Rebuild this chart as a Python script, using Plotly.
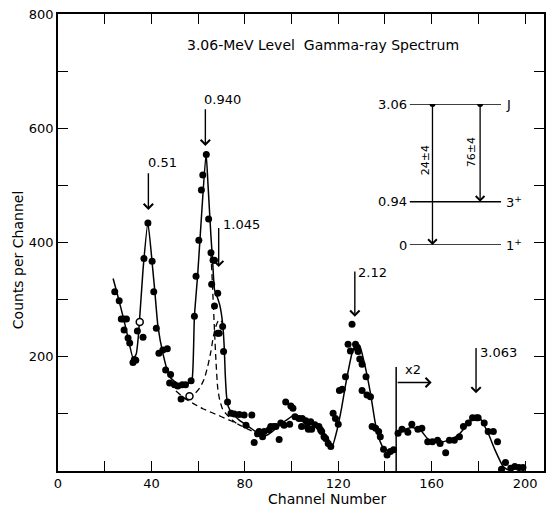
import plotly.graph_objects as go

# ---- measured spectrum (channel, counts) ----
pt_ch = [24.3, 26.2, 27.1, 28.1, 29.3, 28.3, 30.0, 30.7, 32.1, 32.7, 33.3, 34.0, 36.4, 36.8, 38.5,
         40.3, 41.0, 42.1, 43.2, 44.9, 46.8, 46.1, 48.2, 47.8, 49.9, 51.3, 53.2, 54.6, 52.7, 57.0,
         58.4, 59.1, 60.3, 61.4, 62.0, 63.5, 64.5, 65.5, 66.4, 67.0, 65.8, 68.4, 67.0, 70.5, 68.4,
         69.0, 70.9, 72.6, 74.1, 75.5, 77.6, 79.7, 83.0, 80.5, 84.0, 85.4, 86.1, 86.8, 87.6, 88.3,
         90.4, 91.1, 92.5, 93.3, 94.7, 95.4, 96.8, 97.5, 99.2, 99.7, 100.6, 101.5, 103.2, 104.3, 104.6,
         106.1, 106.7, 107.2, 108.2, 108.6, 110.0, 111.7, 112.4, 112.9, 113.9, 114.6, 115.7, 116.8, 117.8,
         118.8, 120.0, 120.5, 121.7, 123.1, 124.2, 125.2, 125.9, 127.4, 128.1, 128.5, 129.2, 130.2, 130.2,
         131.9, 132.3, 133.8, 134.5, 136.0, 137.3, 138.0, 139.4, 140.9, 142.3, 143.7,
         145.6, 147.3, 149.8, 151.5, 154.1, 155.8, 158.3, 160.3, 162.5, 163.6, 166.0, 167.6, 169.7, 171.9,
         173.6, 175.7, 177.5, 179.2, 179.9, 182.5, 184.2, 186.4, 188.2, 191.6, 189.9, 193.9, 195.6, 197.4, 199.1]
pt_cnt = [314, 298, 266, 266, 266, 247, 233, 224, 190, 195, 194, 245, 234, 372, 434,
          367, 314, 250, 206, 212, 214, 177, 169, 154, 151, 149, 151, 151, 126, 158,
          271, 341, 404, 492, 518, 554, 441, 382, 369, 369, 327, 311, 289, 253, 241,
          241, 209, 121, 101, 100, 99, 98, 98, 80, 50, 65, 69, 66, 60, 69,
          72, 78, 78, 78, 55, 84, 80, 121, 82, 114, 110, 95, 92, 78, 92,
          88, 78, 73, 86, 73, 81, 78, 72, 69, 60, 57, 48, 43, 101,
          92, 82, 141, 143, 165, 222, 210, 257, 222, 215, 209, 196, 187, 141,
          165, 133, 130, 78, 75, 69, 60, 38, 28, 34, 37,
          66, 73, 68, 82, 73, 75, 51, 51, 54, 48, 32, 54, 54, 60,
          78, 84, 93, 93, 93, 84, 69, 69, 51, 15, 3, 5, 8, 6, 6]
open_ch = [35.0, 56.3]
open_cnt = [261, 131]

# ---- fitted curve (solid) ----
fit1_ch = [23.6, 25.7, 28.0, 30.0, 32.2, 33.5, 34.5, 36.4, 38.5, 40.6, 41.4, 42.8, 44.9, 47.8, 52.0,
           56.3, 57.4, 58.4, 59.8, 61.5, 63.4, 64.2, 65.5, 66.2, 67.0, 68.4, 69.3, 70.5, 71.2, 71.6,
           72.2, 73.0, 74.1, 77.6, 81.9, 85.4, 89.0, 92.0, 94.7, 98.9, 101.0, 103.5, 106.0, 109.0, 111.7,
           114.0, 116.0, 117.4, 119.5, 121.5, 123.1, 125.9, 127.6, 129.1, 130.9, 133.8, 135.9, 138.0,
           139.9, 142.0, 144.4]
fit1_cnt = [337, 305, 268, 233, 197, 205, 240, 352, 434, 352, 317, 253, 206, 165, 151,
            154, 160, 270, 343, 450, 556, 504, 410, 369, 318, 302, 290, 258, 215, 170,
            130, 112, 104, 89, 77, 67, 62, 70, 80, 92, 98, 95, 89, 83, 78,
            66, 54, 43, 72, 112, 150, 206, 222, 220, 194, 136, 83, 51,
            37, 36, 37]
fit2_ch = [145.1, 148.0, 151.5, 155.1, 158.6, 162.9, 167.2, 171.4, 175.7, 178.8, 180.7, 184.2, 187.1, 190.6, 192.7]
fit2_cnt = [63, 72, 76, 72, 55, 50, 54, 63, 83, 95, 92, 66, 37, 8, 2]

# ---- decomposition (dashed) ----
bg_ch = [50.5, 54.0, 58.0, 62.0, 66.0, 70.0, 74.0, 78.0, 82.0, 85.0]
bg_cnt = [140, 128, 118, 109, 102, 95, 88, 80, 72, 66]
tail_ch = [65.5, 66.2, 67.0, 67.7, 68.4, 69.2, 70.5, 72.0, 75.0, 77.6]
tail_cnt = [380, 320, 247, 188, 145, 125, 108, 100, 88, 80]
p1045_ch = [55.5, 58.0, 60.6, 62.5, 64.1, 65.5, 66.5, 67.5, 68.5, 69.5, 70.5]
p1045_cnt = [127, 133, 145, 160, 183, 210, 235, 252, 262, 265, 258]

# ---- peak labels ----
peak_labels = ["0.51", "0.940", "1.045", "2.12", "3.063"]
peak_ch = [38.7, 63.1, 68.8, 127.1, 179.0]
peak_tip = [457, 569, 357, 270, 136]
peak_tail = [524, 636, 428, 352, 218]
label_ch = [37.8, 61.8, 70.0, 127.5, 180.0]
label_cnt = [540, 650, 431, 348, 208]

# ---- x2 marker ----
x2_ch = 144.8
x2_top = 182
x2_arrow_cnt = 155
x2_arrow_end = 160

# ---- level scheme ----
levels = [3.06, 0.94, 0.0]
level_names = ["3.06", "0.94", "0"]
level_spins = ["J", "3<sup>+</sup>", "1<sup>+</sup>"]
branch_x = [0.25, 0.77]
branch_from = [3.06, 3.06]
branch_to = [0.0, 0.94]
branch_text = ["24±4", "76±4"]
branch_text_x = [0.17, 0.685]
branch_text_y = [1.845, 2.02]

x_ticks = [0, 40, 80, 120, 160, 200]
x_ticktext = ["0", "40", "80", "120", "160", "200"]
x_minor = [20, 60, 100, 140, 180]
y_ticks = [200, 400, 600, 800]
y_ticktext = ["200", "400", "600", "800"]
y_minor = [100, 300, 500, 700]

FONT = "DejaVu Sans"
fig = go.Figure()

# dashed components
for cx, cy in [(bg_ch, bg_cnt), (tail_ch, tail_cnt), (p1045_ch, p1045_cnt)]:
    fig.add_trace(go.Scatter(x=cx, y=cy, mode="lines",
                             line=dict(color="black", width=1.3, dash="6px,4px", shape="spline", smoothing=0.6),
                             hoverinfo="skip", showlegend=False))
# fitted curve
for cx, cy in [(fit1_ch, fit1_cnt), (fit2_ch, fit2_cnt)]:
    fig.add_trace(go.Scatter(x=cx, y=cy, mode="lines",
                             line=dict(color="black", width=1.5, shape="spline", smoothing=0.5),
                             hoverinfo="skip", showlegend=False))
# data points
fig.add_trace(go.Scatter(x=pt_ch, y=pt_cnt, mode="markers",
                         marker=dict(color="black", size=7), showlegend=False))
fig.add_trace(go.Scatter(x=open_ch, y=open_cnt, mode="markers",
                         marker=dict(color="white", size=7, line=dict(color="black", width=1.5)),
                         showlegend=False))
# x2 vertical line
fig.add_trace(go.Scatter(x=[x2_ch, x2_ch], y=[0, x2_top], mode="lines",
                         line=dict(color="black", width=1.5), showlegend=False, hoverinfo="skip"))

annotations = []
# peak arrows + labels
for lab, pc, tip, tail, lx, ly in zip(peak_labels, peak_ch, peak_tip, peak_tail, label_ch, label_cnt):
    annotations.append(dict(x=pc, y=tip, ax=pc, ay=tail, xref="x", yref="y", axref="x", ayref="y",
                            text="", showarrow=True, arrowhead=4, arrowsize=1.3, arrowwidth=1.4,
                            arrowcolor="black", standoff=0))
    annotations.append(dict(x=lx, y=ly, xref="x", yref="y", text=lab, showarrow=False,
                            xanchor="left", yanchor="middle", font=dict(size=13, family=FONT, color="black")))
# x2 arrow
annotations.append(dict(x=x2_arrow_end, y=x2_arrow_cnt, ax=x2_ch, ay=x2_arrow_cnt, xref="x", yref="y",
                        axref="x", ayref="y", text="", showarrow=True, arrowhead=4, arrowsize=1.3,
                        arrowwidth=1.4, arrowcolor="black", standoff=0))
annotations.append(dict(x=152.2, y=177, xref="x", yref="y", text="x2", showarrow=False,
                        font=dict(size=13, family=FONT, color="black")))
# title
annotations.append(dict(x=113.4, y=745, xref="x", yref="y", text="3.06-MeV Level  Gamma-ray Spectrum",
                        showarrow=False, font=dict(size=14, family=FONT, color="black")))
# axis titles
annotations.append(dict(x=115, y=0, xref="x", yref="paper", yshift=-18, yanchor="top",
                        text="Channel Number", showarrow=False,
                        font=dict(size=14, family=FONT, color="black")))
annotations.append(dict(x=0, y=369, xref="paper", yref="y", xshift=-50, text="Counts per Channel",
                        textangle=-90, showarrow=False, font=dict(size=14, family=FONT, color="black")))

# level scheme
for lv, nm, sp in zip(levels, level_names, level_spins):
    fig.add_trace(go.Scatter(x=[0, 1], y=[lv, lv], xaxis="x2", yaxis="y2", mode="lines",
                             line=dict(color="black", width=1.4), showlegend=False, hoverinfo="skip"))
    annotations.append(dict(x=0, y=lv, xref="x2", yref="y2", text=nm, showarrow=False,
                            xanchor="right", xshift=-1, font=dict(size=13, family=FONT, color="black")))
    annotations.append(dict(x=1, y=lv, xref="x2", yref="y2", text=sp, showarrow=False,
                            xanchor="left", xshift=3, font=dict(size=13, family=FONT, color="black")))
fig.add_trace(go.Scatter(x=branch_x, y=branch_from, xaxis="x2", yaxis="y2", mode="markers",
                         marker=dict(color="black", size=6), showlegend=False))
for bx, bf, bt, txt, tx, ty in zip(branch_x, branch_from, branch_to, branch_text, branch_text_x, branch_text_y):
    annotations.append(dict(x=bx, y=bt, ax=bx, ay=bf, xref="x2", yref="y2", axref="x2", ayref="y2",
                            text="", showarrow=True, arrowhead=4, arrowsize=1.3, arrowwidth=1.3,
                            arrowcolor="black", standoff=0))
    annotations.append(dict(x=tx, y=ty, xref="x2", yref="y2", text=txt, textangle=-90, showarrow=False,
                            font=dict(size=11, family=FONT, color="black")))

axis_common = dict(showline=True, linecolor="black", linewidth=1.6, mirror="ticks", ticks="inside",
                   ticklen=10, tickwidth=1.4, tickcolor="black", showgrid=False, zeroline=False,
                   tickfont=dict(size=13, family=FONT, color="black"))

fig.update_layout(
    width=547, height=510,
    margin=dict(l=58, r=1, t=14, b=39),
    paper_bgcolor="white", plot_bgcolor="white",
    font=dict(family=FONT, color="black"),
    showlegend=False,
    xaxis=dict(range=[0, 208.1], tickmode="array", tickvals=x_ticks, ticktext=x_ticktext,
               minor=dict(tickmode="array", tickvals=x_minor, ticks="inside", ticklen=10, tickwidth=1.4,
                          tickcolor="black", showgrid=False),
               **axis_common),
    yaxis=dict(range=[0, 800], tickmode="array", tickvals=y_ticks, ticktext=y_ticktext,
               minor=dict(tickmode="array", tickvals=y_minor, ticks="inside", ticklen=10, tickwidth=1.4,
                          tickcolor="black", showgrid=False),
               **axis_common),
    xaxis2=dict(domain=[0.7234, 0.9119], range=[0, 1], anchor="y2", visible=False),
    yaxis2=dict(domain=[0.4945, 0.803], range=[0, 3.06], anchor="x2", visible=False),
    annotations=annotations,
)

fig.write_html("out.html")
